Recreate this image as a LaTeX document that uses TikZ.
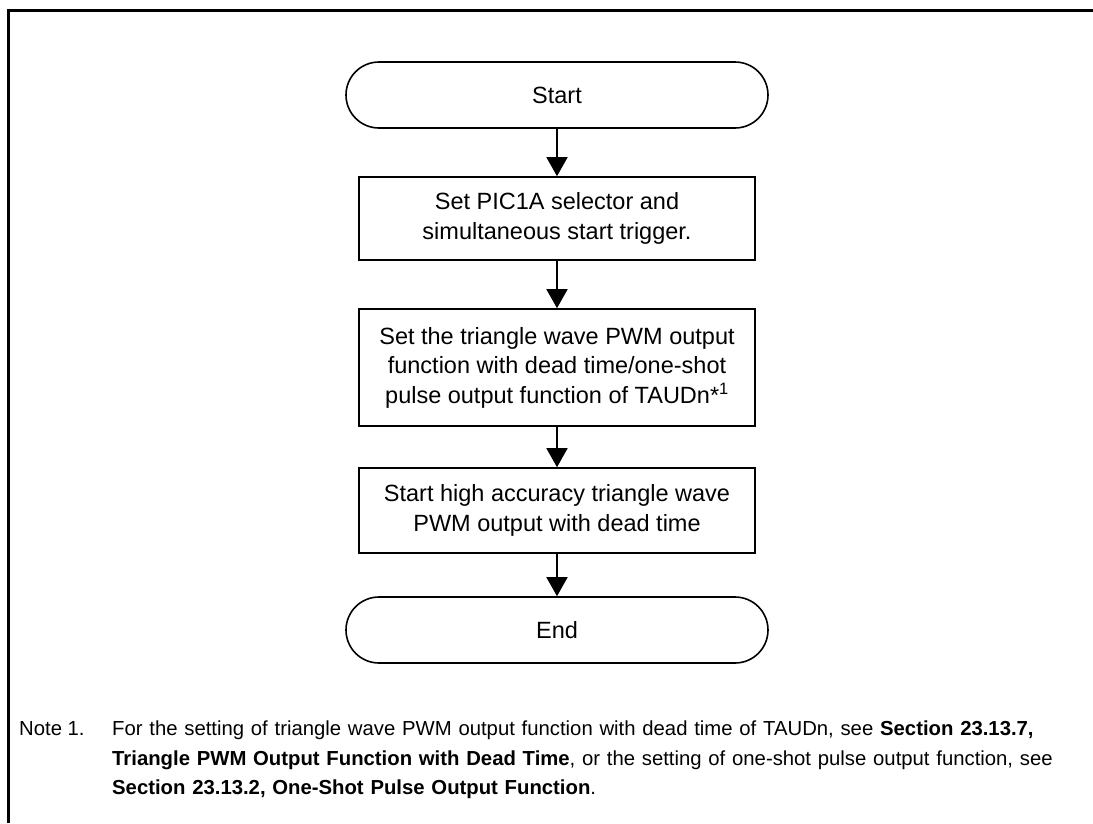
\documentclass[tikz,border=0pt]{standalone}
\usepackage{fontspec}
\setmainfont{Liberation Sans}
\usetikzlibrary{shapes.misc,arrows.meta}
\begin{document}
\begin{tikzpicture}[x=1pt,y=-1pt,
  term/.style={rounded rectangle, draw, line width=1.6pt, minimum width=422pt, minimum height=66pt, inner sep=0pt, font=\fontsize{23.5}{29.5}\selectfont},
  procbox/.style={rectangle, draw, line width=1.6pt, minimum width=396pt, inner sep=0pt, align=center, font=\fontsize{23.5}{29.5}\selectfont},
  flow/.style={line width=1.6pt, -{Triangle[width=21pt,length=19pt]}},
  frameline/.style={line width=3pt},
  notetext/.style={inner sep=0pt, font=\fontsize{20.3}{29.5}\selectfont}
]
\useasboundingbox (0,0) rectangle (1093,823);
\fill[white] (0,0) rectangle (1093,823);
\draw[frameline] (8,823) -- (8,10) -- (1093,10);

\node[term] (start) at (557,95) {Start};
\node[procbox, minimum height=83pt] (b1) at (557,218.5) {Set PIC1A selector and\\simultaneous start trigger.};
\node[procbox, minimum height=117pt] (b2) at (557,367.5) {Set the triangle wave PWM output\\function with dead time/one-shot\\pulse output function of TAUDn*\textsuperscript{1}};
\node[procbox, minimum height=85pt] (b3) at (557,510.5) {Start high accuracy triangle wave\\PWM output with dead time};
\node[term] (end) at (557,630) {End};

\draw[flow] (start.south) -- (b1.north);
\draw[flow] (b1.south) -- (b2.north);
\draw[flow] (b2.south) -- (b3.north);
\draw[flow] (b3.south) -- (end.north);

\node[notetext, anchor=base west] (nlabel) at (19,735.5) {Note 1.};
\node[notetext, anchor=base west, text width=975pt, align=left] (note) at (112,735.5) {For the setting of triangle wave PWM output function with dead time of TAUDn, see \textbf{Section 23.13.7,}\\\textbf{Triangle PWM Output Function with Dead Time}, or the setting of one-shot pulse output function, see\\\textbf{Section 23.13.2, One-Shot Pulse Output Function}.};
\end{tikzpicture}
\end{document}
